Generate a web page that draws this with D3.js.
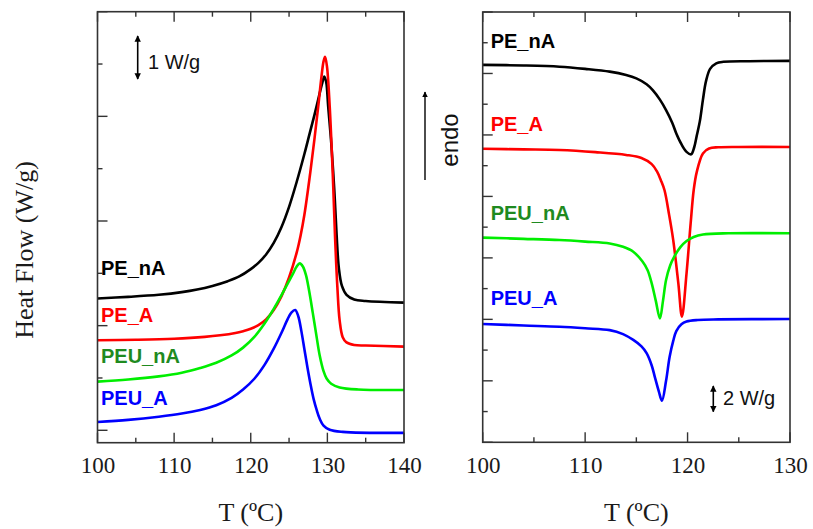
<!DOCTYPE html>
<html><head><meta charset="utf-8">
<script src="https://cdn.jsdelivr.net/npm/d3@7"></script>
<style>body{margin:0;background:#fff}svg{display:block}</style>
</head><body>
<svg id="c" width="813" height="529"></svg>
<script>
// ---------- DATA ----------
// Left panel (heating): [T (°C), heat flow (W/g, shifted)]
const heatPE_nA = [[100,2.52],[104,2.55],[108,2.59],[111,2.64],[113,2.69],[115,2.76],[117,2.85],[118.5,2.94],[120,3.08],[121,3.20],[122,3.36],[123,3.58],[124,3.88],[125,4.27],[126,4.75],[127,5.28],[127.7,5.68],[128.3,6.02],[128.8,6.32],[129.3,6.62],[129.6,6.76],[129.85,6.65],[130.1,6.2],[130.5,5.5],[130.9,4.6],[131.2,3.75],[131.5,3.1],[131.9,2.76],[132.5,2.59],[133.5,2.50],[135,2.47],[140,2.44]];
const heatPE_A = [[100,1.72],[105,1.73],[110,1.75],[114,1.785],[116,1.815],[118,1.86],[119,1.895],[120,1.94],[121,2.01],[122,2.12],[123,2.30],[124,2.56],[125,2.92],[126,3.40],[126.5,3.72],[127,4.12],[127.7,4.85],[128.3,5.55],[128.8,6.18],[129.2,6.72],[129.5,7.05],[129.7,7.14],[129.95,6.95],[130.3,6.2],[130.7,4.9],[131.0,3.7],[131.3,2.75],[131.6,2.1],[132,1.78],[132.5,1.68],[133.5,1.63],[135,1.62],[140,1.60]];
const heatPEU_nA = [[100,0.93],[104,0.97],[108,1.03],[111,1.10],[113.4,1.19],[115.5,1.29],[117.5,1.43],[119,1.58],[120.5,1.79],[121.8,2.04],[123,2.32],[124,2.58],[124.8,2.80],[125.5,2.99],[126,3.13],[126.4,3.19],[126.8,3.13],[127.2,2.97],[127.6,2.68],[128.1,2.24],[128.6,1.78],[129,1.43],[129.5,1.13],[129.9,0.99],[130.5,0.89],[131.6,0.82],[134,0.78],[140,0.77]];
const heatPEU_A = [[100,0.16],[104,0.20],[108,0.26],[111,0.32],[113.4,0.39],[115.5,0.48],[117.5,0.62],[119,0.78],[120.5,0.99],[121.8,1.25],[123,1.56],[124,1.86],[124.8,2.12],[125.3,2.25],[125.8,2.30],[126.2,2.18],[126.6,1.90],[127,1.55],[127.4,1.20],[127.8,0.88],[128.2,0.60],[128.6,0.39],[129.0,0.22],[129.5,0.09],[130.3,0.01],[132,-0.03],[140,-0.05]];
// Right panel (cooling)
const coolPE_nA = [[100,12.28],[104,12.26],[107.5,12.22],[110,12.15],[112.4,12.06],[114,11.95],[115,11.84],[116,11.65],[116.6,11.46],[117.3,11.15],[117.9,10.81],[118.5,10.4],[118.9,10.05],[119.4,9.7],[119.9,9.45],[120.35,9.37],[120.65,9.6],[120.9,9.98],[121.2,10.45],[121.5,11.15],[121.8,11.75],[122.2,12.15],[122.8,12.33],[123.5,12.38],[126,12.40],[130,12.41]];
const coolPE_A = [[100,9.55],[104,9.53],[107.5,9.51],[111,9.44],[114,9.35],[115.5,9.25],[116.5,9.05],[117,8.82],[117.4,8.52],[117.75,8.2],[118.2,7.4],[118.6,6.58],[119.1,5.17],[119.45,4.09],[119.9,5.50],[120.3,7.12],[120.6,8.21],[120.9,8.8],[121.5,9.40],[122.1,9.56],[123,9.60],[125,9.61],[130,9.61]];
const coolPEU_nA = [[100,6.66],[104,6.62],[107.5,6.58],[110,6.53],[112.4,6.47],[113.7,6.36],[114.7,6.20],[115.6,5.88],[116.1,5.6],[116.5,5.17],[116.9,4.6],[117.3,4.03],[117.6,4.6],[117.9,5.28],[118.3,5.75],[118.7,6.04],[119.3,6.35],[119.9,6.55],[120.6,6.68],[121.5,6.76],[124,6.80],[130,6.80]];
const coolPEU_A = [[100,3.85],[104,3.80],[107.5,3.76],[110,3.71],[112.4,3.65],[113.7,3.52],[114.7,3.33],[115.5,3.12],[116.0,2.90],[116.5,2.50],[116.8,2.13],[117.2,1.65],[117.5,1.35],[117.9,2.0],[118.25,2.78],[118.6,3.3],[118.9,3.62],[119.4,3.84],[119.9,3.93],[121,3.98],[123,4.00],[130,4.01]];

const seriesNames = ["PE_nA","PE_A","PEU_nA","PEU_A"];
const lineColors = ["#000000","#ff0000","#00ee00","#0000ff"];
const textColors = ["#000000","#ff0000","#1f8a1f","#0000ff"];
const leftXTicks = [100,105,110,115,120,125,130,135,140];
const rightXTicks = [100,105,110,115,120,125,130];
const leftYTicks = [0,1,2,3,4,5,6,7,8];
const rightYTicks = [0,1,2,3,4,5,6,7,8,9,10,11,12,13,14];

// ---------- DRAW ----------
const svg = d3.select("#c");
const serif = "'Liberation Serif','Times New Roman',serif";
const sans = "'Liberation Sans',Arial,sans-serif";

function panel(cfg){
  const {x0,x1,y0,y1,xd,yd,xt,yt,data,labelY,labelX} = cfg;
  const x = d3.scaleLinear().domain(xd).range([x0,x1]);
  const y = d3.scaleLinear().domain(yd).range([y1,y0]);
  const g = svg.append("g");
  const line = d3.line().x(d=>x(d[0])).y(d=>y(d[1])).curve(d3.curveCatmullRom.alpha(0.5));
  data.forEach((d,i)=>{
    g.append("path").attr("d",line(d)).attr("fill","none")
     .attr("stroke",lineColors[i]).attr("stroke-width",2.6).attr("stroke-linejoin","round");
  });
  const ax = d3.axisBottom(x).tickValues(xt).tickSize(0).tickFormat(d=>d%10===0?d:"").tickPadding(14);
  const gb = g.append("g").attr("transform",`translate(0,${y1})`).call(ax);
  gb.select(".domain").remove();
  gb.selectAll("text").attr("font-family",serif).attr("font-size",23).attr("fill","#1a1a1a");
  xt.forEach(t=>{
    const L = t%10===0?10:5;
    g.append("line").attr("x1",x(t)).attr("x2",x(t)).attr("y1",y1).attr("y2",y1-L).attr("stroke","#333").attr("stroke-width",1.4);
    g.append("line").attr("x1",x(t)).attr("x2",x(t)).attr("y1",y0).attr("y2",y0+L).attr("stroke","#333").attr("stroke-width",1.4);
  });
  yt.forEach((t,i)=>{
    const L = i%2===0?10:5;
    g.append("line").attr("x1",x0).attr("x2",x0+L).attr("y1",y(t)).attr("y2",y(t)).attr("stroke","#333").attr("stroke-width",1.4);
  });
  g.append("rect").attr("x",x0).attr("y",y0).attr("width",x1-x0).attr("height",y1-y0)
   .attr("fill","none").attr("stroke","#333").attr("stroke-width",1.6);
  seriesNames.forEach((n,i)=>{
    g.append("text").attr("x",labelX).attr("y",labelY[i]).text(n)
     .attr("font-family",sans).attr("font-weight","bold").attr("font-size",20).attr("fill",textColors[i]);
  });
  g.append("text").attr("x",(x0+x1)/2).attr("y",521).attr("text-anchor","middle")
   .attr("font-family",serif).attr("font-size",26).attr("fill","#1a1a1a").text("T (ºC)");
  return {x,y,g};
}

const L = panel({x0:97.5,x1:404,y0:11.7,y1:442.7,xd:[100,140],yd:[-0.237,8.0],xt:leftXTicks,yt:leftYTicks,
  data:[heatPE_nA,heatPE_A,heatPEU_nA,heatPEU_A],labelY:[275,322,363,405],labelX:101});
const R = panel({x0:482.7,x1:790,y0:12,y1:442.3,xd:[100,130],yd:[0,14],xt:rightXTicks,yt:rightYTicks,
  data:[coolPE_nA,coolPE_A,coolPEU_nA,coolPEU_A],labelY:[48,131,220,305],labelX:490.7});

function vArrow(xp,ya,yb){
  const defs = svg.select("defs").empty()?svg.append("defs"):svg.select("defs");
  if(defs.select("#ah").empty()){
    defs.append("marker").attr("id","ah").attr("viewBox","0 0 10 10").attr("refX",9).attr("refY",5)
      .attr("markerWidth",4).attr("markerHeight",5).attr("orient","auto-start-reverse")
      .append("path").attr("d","M0,0 L10,5 L0,10 z").attr("fill","#000");
  }
  svg.append("line").attr("x1",xp).attr("x2",xp).attr("y1",ya).attr("y2",yb)
    .attr("stroke","#000").attr("stroke-width",1.6)
    .attr("marker-start","url(#ah)").attr("marker-end","url(#ah)");
}
vArrow(137.7,36,79);
svg.append("text").attr("x",148).attr("y",68.5).text("1 W/g").attr("font-family",sans).attr("font-size",20).attr("fill","#111");
vArrow(713.3,386,411.7);
svg.append("text").attr("x",723).attr("y",405).text("2 W/g").attr("font-family",sans).attr("font-size",20).attr("fill","#111");

svg.append("line").attr("x1",425).attr("x2",425).attr("y1",180).attr("y2",92).attr("stroke","#000").attr("stroke-width",1.4)
  .attr("marker-end","url(#ah)");
svg.append("text").attr("transform","translate(458,140) rotate(-90)").attr("text-anchor","middle")
  .attr("font-family",sans).attr("font-size",24).attr("fill","#111").text("endo");

svg.append("text").attr("transform","translate(33,250) rotate(-90)").attr("text-anchor","middle")
  .attr("font-family",serif).attr("font-size",26).attr("fill","#1a1a1a").text("Heat Flow (W/g)");
</script>
</body></html>
